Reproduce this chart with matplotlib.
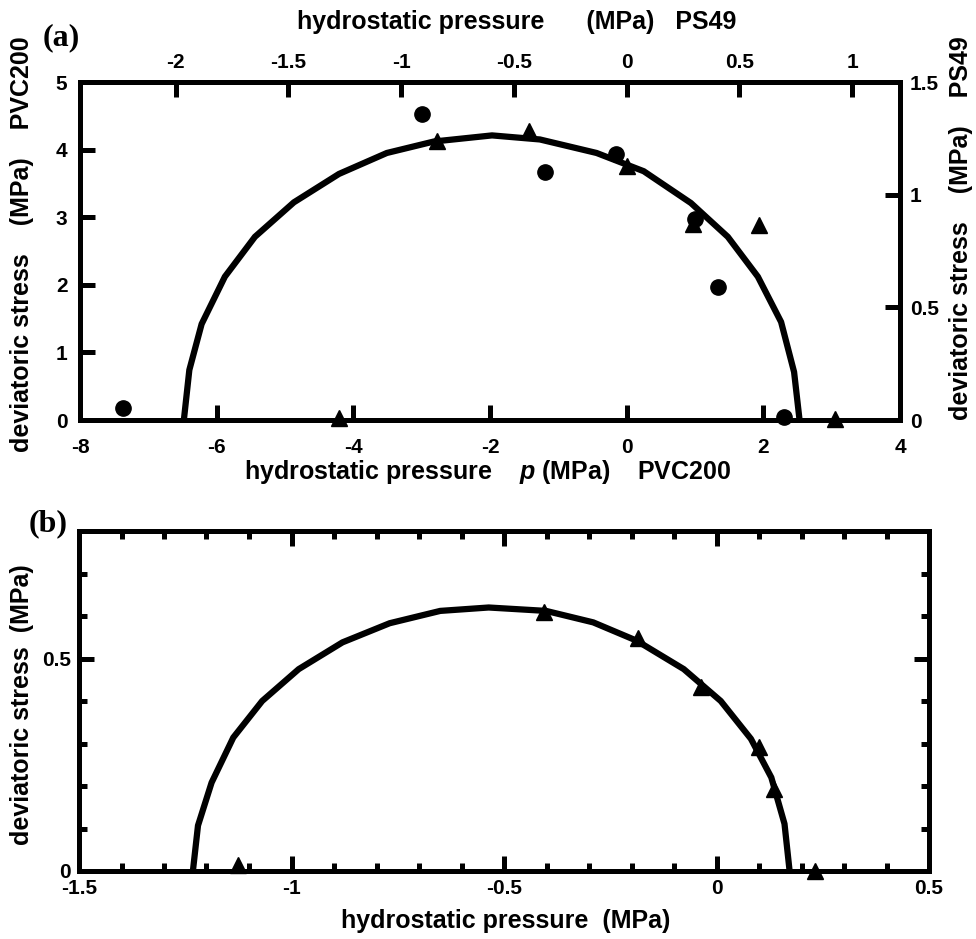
import numpy as np
import matplotlib
matplotlib.use("Agg")
import matplotlib.pyplot as plt
from matplotlib.ticker import FormatStrFormatter, MultipleLocator

plt.rcParams['font.family'] = ['Liberation Sans', 'DejaVu Sans']
plt.rcParams['font.weight'] = 'bold'
plt.rcParams['axes.unicode_minus'] = False
plt.rcParams['mathtext.fontset'] = 'custom'
plt.rcParams['mathtext.it'] = 'Liberation Sans:italic:bold'

# (a) failure envelope, PVC200 units (bottom / left axes)
env_a_p = [-6.48, -6.40, -6.22, -5.88, -5.44, -4.87, -4.21, -3.51, -2.82, -1.97,
           -1.27, -0.44, 0.25, 0.94, 1.48, 1.92, 2.26, 2.45, 2.53]
env_a_q = [0.0, 0.74, 1.42, 2.12, 2.71, 3.22, 3.64, 3.95, 4.12, 4.21,
           4.15, 3.95, 3.68, 3.21, 2.71, 2.12, 1.45, 0.71, 0.0]
# PVC200 data (circles)
pvc_p = [-7.37, -2.99, -1.19, -0.16, 1.00, 1.34, 2.30]
pvc_q = [0.18, 4.52, 3.67, 3.93, 2.98, 1.97, 0.04]
# PS49 data (triangles), PS49 units (top / right axes)
ps_p = [-1.277, -0.84, -0.434, 0.0, 0.294, 0.587, 0.923]
ps_q = [0.01, 1.24, 1.281, 1.127, 0.871, 0.864, 0.005]

# (b) envelope and data
env_b_p = [-1.232, -1.220, -1.188, -1.137, -1.069, -0.983, -0.880, -0.769, -0.650, -0.536,
           -0.401, -0.290, -0.188, -0.077, 0.010, 0.081, 0.129, 0.160, 0.172]
env_b_q = [0.0, 0.107, 0.208, 0.314, 0.400, 0.475, 0.538, 0.583, 0.612, 0.620,
           0.612, 0.585, 0.542, 0.475, 0.400, 0.311, 0.220, 0.111, 0.0]
b_p = [-1.125, -0.405, -0.184, -0.037, 0.101, 0.135, 0.231]
b_q = [0.015, 0.609, 0.548, 0.432, 0.291, 0.193, 0.0]

W, H = 976, 939
fig = plt.figure(figsize=(W / 100, H / 100), dpi=100)

def frac(x0, y0, x1, y1):
    return [x0 / W, 1 - y1 / H, (x1 - x0) / W, (y1 - y0) / H]

def fpos(x, y):
    return x / W, 1 - y / H

LW = 3.6
TS = 15
LS = 18
MS = 11
fmt = FormatStrFormatter('%g')

# ---- panel (a)
ax = fig.add_axes(frac(80, 82, 900, 420))
ax.plot(env_a_p, env_a_q, color='black', lw=4.5, solid_joinstyle='miter')
ax.plot(pvc_p, pvc_q, 'o', color='black', ms=MS, clip_on=False)
ax.set_xlim(-8, 4)
ax.set_ylim(0, 5)
ax.set_xticks(np.arange(-8, 4.1, 2))
ax.set_yticks(np.arange(0, 5.1, 1))
ax.xaxis.set_major_formatter(fmt)
ax.yaxis.set_major_formatter(fmt)
ax.tick_params(direction='in', length=11, width=LW, labelsize=TS,
               top=False, right=False)
ax.tick_params(axis='x', pad=13)
ax.tick_params(axis='y', pad=9)
for s in ax.spines.values():
    s.set_linewidth(LW)

ax2 = fig.add_axes(ax.get_position(), frameon=False)
ax2.patch.set_visible(False)
ax2.plot(ps_p, ps_q, '^', color='black', ms=MS, clip_on=False)
ax2.set_xlim(-8 / 3.3, 4 / 3.3)
ax2.set_ylim(0, 1.5)
ax2.xaxis.tick_top()
ax2.yaxis.tick_right()
ax2.set_xticks(np.arange(-2, 1.01, 0.5))
ax2.set_yticks([0, 0.5, 1, 1.5])
ax2.xaxis.set_major_formatter(fmt)
ax2.yaxis.set_major_formatter(fmt)
ax2.tick_params(direction='in', length=11, width=LW, labelsize=TS, pad=7)

fig.text(*fpos(61, 38), '(a)', family='Liberation Serif', weight='bold',
         fontsize=23, ha='center', va='center')
fig.text(*fpos(517, 22), 'hydrostatic pressure      (MPa)   PS49',
         fontsize=LS, ha='center', va='center')
fig.text(*fpos(488, 472), 'hydrostatic pressure    $p$ (MPa)    PVC200',
         fontsize=LS, ha='center', va='center')
fig.text(*fpos(22, 244), 'deviatoric stress    (MPa)    PVC200',
         fontsize=LS, ha='center', va='center', rotation=90)
fig.text(*fpos(961, 228), 'deviatoric stress    (MPa)    PS49',
         fontsize=LS, ha='center', va='center', rotation=90)

# ---- panel (b)
bx = fig.add_axes(frac(79, 531, 929, 871))
bx.plot(env_b_p, env_b_q, color='black', lw=4.5, solid_joinstyle='miter')
bx.plot(b_p, b_q, '^', color='black', ms=MS, clip_on=False)
bx.set_xlim(-1.5, 0.5)
bx.set_ylim(0, 0.8)
bx.xaxis.set_major_locator(MultipleLocator(0.5))
bx.xaxis.set_minor_locator(MultipleLocator(0.1))
bx.set_yticks([0, 0.5])
bx.yaxis.set_minor_locator(MultipleLocator(0.1))
bx.xaxis.set_major_formatter(fmt)
bx.yaxis.set_major_formatter(fmt)
bx.tick_params(which='major', direction='in', length=11, width=LW, labelsize=TS,
               pad=6, top=True, right=True)
bx.tick_params(which='minor', direction='in', length=6, width=LW,
               top=True, right=True)
for s in bx.spines.values():
    s.set_linewidth(LW)

fig.text(*fpos(48, 524), '(b)', family='Liberation Serif', weight='bold',
         fontsize=23, ha='center', va='center')
fig.text(*fpos(506, 921), 'hydrostatic pressure  (MPa)',
         fontsize=LS, ha='center', va='center')
fig.text(*fpos(22, 705), 'deviatoric stress  (MPa)',
         fontsize=LS, ha='center', va='center', rotation=90)

fig.savefig('out.png', dpi=100)
